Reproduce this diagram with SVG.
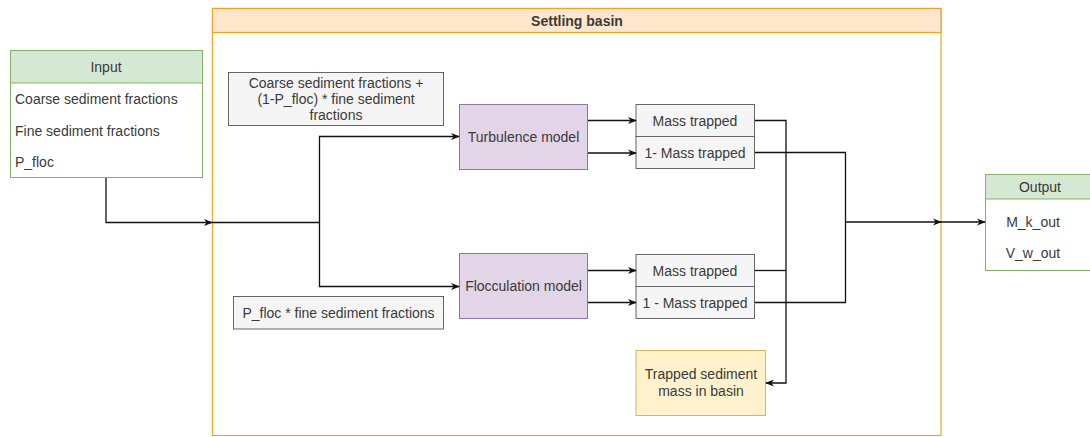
<svg xmlns="http://www.w3.org/2000/svg" width="1090" height="437" viewBox="0 0 1090 437">
  <defs>
    <marker id="arr" viewBox="0 0 10 10" refX="9" refY="5" markerWidth="9" markerHeight="9" markerUnits="userSpaceOnUse" orient="auto">
      <path d="M0,1 L10,5 L0,9 L3,5 Z" fill="#111"/>
    </marker>
  </defs>
  <style>
    text { font-family: "Liberation Sans", Arial, sans-serif; font-size: 14px; fill: #3a3a3a; }
    .mid { text-anchor: middle; }
    .green-h { fill: #d5e8d4; stroke: #82b366; stroke-width: 1; }
    .green-b { fill: #ffffff; stroke: #82b366; stroke-width: 1; }
    .grey { fill: #f5f5f5; stroke: #666; stroke-width: 1; }
    .purple { fill: #e1d5e7; stroke: #9673a6; stroke-width: 1; }
    .yellow { fill: #fff2cc; stroke: #d6b656; stroke-width: 1; }
    .wire { fill: none; stroke: #111; stroke-width: 1.3; }
  </style>
  <rect width="1090" height="437" fill="#fff"/>

  <!-- Settling basin container -->
  <g id="settling-basin">
    <rect x="212.5" y="8.5" width="728.5" height="427" fill="#fff" stroke="#e8a62a" stroke-width="1.2"/>
    <rect x="212.5" y="8.5" width="728.5" height="24" fill="#ffe6cc" stroke="#e8a62a" stroke-width="1.2"/>
    <text x="577" y="25.5" class="mid" style="font-weight:bold">Settling basin</text>
  </g>

  <!-- Input list -->
  <g id="input">
    <rect x="10.5" y="50.5" width="192" height="127" class="green-b"/>
    <rect x="10.5" y="50.5" width="192" height="32.5" class="green-h"/>
    <text x="106" y="72" class="mid">Input</text>
    <text x="15" y="104">Coarse sediment fractions</text>
    <text x="15" y="135.5">Fine sediment fractions</text>
    <text x="15" y="167">P_floc</text>
  </g>

  <g id="coarse-label">
    <rect x="228.5" y="72.5" width="215" height="53" class="grey"/>
    <text x="336" y="87.5" class="mid">Coarse sediment fractions +</text>
    <text x="336" y="103.5" class="mid">(1-P_floc) * fine sediment</text>
    <text x="336" y="119.5" class="mid">fractions</text>
  </g>

  <g id="pfloc-label">
    <rect x="233.5" y="296.5" width="210" height="32.5" class="grey"/>
    <text x="338.5" y="318" class="mid">P_floc * fine sediment fractions</text>
  </g>

  <g id="turbulence-model">
    <rect x="459.5" y="104.5" width="128" height="65" class="purple"/>
    <text x="523.5" y="142" class="mid">Turbulence model</text>
  </g>

  <g id="flocculation-model">
    <rect x="459.5" y="253.5" width="128" height="65" class="purple"/>
    <text x="523.5" y="291" class="mid">Flocculation model</text>
  </g>

  <g id="turbulence-results">
    <rect x="636" y="104.5" width="118.5" height="32" class="grey"/>
    <text x="695" y="125.5" class="mid">Mass trapped</text>
    <rect x="636" y="136.5" width="118.5" height="32" class="grey"/>
    <text x="695" y="157.5" class="mid">1- Mass trapped</text>
  </g>

  <g id="flocculation-results">
    <rect x="636" y="254.5" width="118.5" height="32" class="grey"/>
    <text x="695" y="275.5" class="mid">Mass trapped</text>
    <rect x="636" y="286.5" width="118.5" height="32" class="grey"/>
    <text x="695" y="307.5" class="mid">1 - Mass trapped</text>
  </g>

  <g id="trapped-mass">
    <rect x="636" y="350.5" width="129.5" height="65" class="yellow"/>
    <text x="701" y="379" class="mid">Trapped sediment</text>
    <text x="701" y="396" class="mid">mass in basin</text>
  </g>

  <g id="output">
    <rect x="985.5" y="174.5" width="110" height="96" class="green-b"/>
    <rect x="985.5" y="174.5" width="110" height="24.5" class="green-h"/>
    <text x="1040" y="192" class="mid">Output</text>
    <text x="1033" y="226.5" class="mid">M_k_out</text>
    <text x="1033" y="258" class="mid">V_w_out</text>
  </g>

  <!-- Connectors -->
  <g id="connectors">
    <path class="wire" d="M106,178 V222.5 H212" marker-end="url(#arr)"/>
    <path class="wire" d="M212,222.5 H319.5 V136.5 H459" marker-end="url(#arr)"/>
    <path class="wire" d="M319.5,222.5 V286.5 H459" marker-end="url(#arr)"/>
    <path class="wire" d="M588,120.5 H636" marker-end="url(#arr)"/>
    <path class="wire" d="M588,153 H636" marker-end="url(#arr)"/>
    <path class="wire" d="M588,270.5 H636" marker-end="url(#arr)"/>
    <path class="wire" d="M588,302.5 H636" marker-end="url(#arr)"/>
    <path class="wire" d="M755,120.5 H786 V383 H766" marker-end="url(#arr)"/>
    <path class="wire" d="M755,270.5 H786"/>
    <path class="wire" d="M755,152.5 H845.5 V302.5 H755"/>
    <path class="wire" d="M845.5,222 H941" marker-end="url(#arr)"/>
    <path class="wire" d="M941,222 H985" marker-end="url(#arr)"/>
  </g>
</svg>
